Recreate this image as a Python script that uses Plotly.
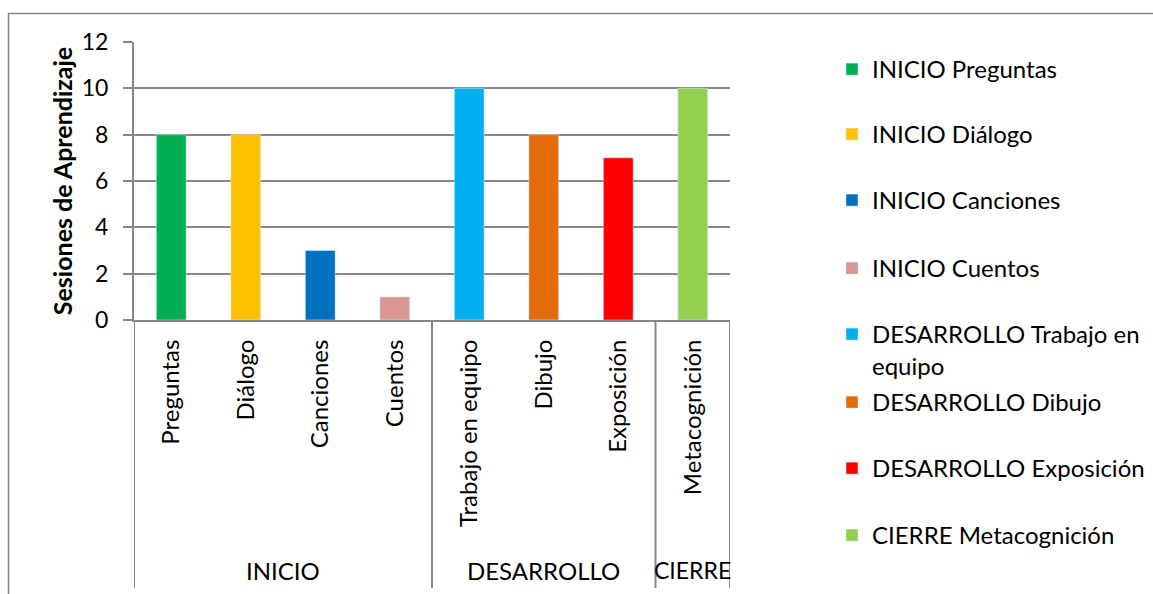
import plotly.graph_objects as go

# ---- data ----
groups = ["INICIO", "INICIO", "INICIO", "INICIO", "DESARROLLO", "DESARROLLO", "DESARROLLO", "CIERRE"]
categories = ["Preguntas", "Diálogo", "Canciones", "Cuentos", "Trabajo en equipo", "Dibujo", "Exposición", "Metacognición"]
values = [8, 8, 3, 1, 10, 8, 7, 10]
legend_labels = ["INICIO Preguntas", "INICIO Diálogo", "INICIO Canciones", "INICIO Cuentos",
                 "DESARROLLO Trabajo en<br>equipo", "DESARROLLO Dibujo", "DESARROLLO Exposición",
                 "CIERRE Metacognición"]
colors = ["#00B050", "#FFC000", "#0070C0", "#D99694", "#00B0F0", "#E36C09", "#FF0000", "#92D050"]
y_ticks = [0, 2, 4, 6, 8, 10, 12]

# ---- layout geometry (pixels) ----
W, H = 1153, 594
L, R, T, B = 134, 730, 42, 320
pw, ph = R - L, B - T
FONT = "Lato"
GRID = "#878787"

def px_x(p):
    return (p - L) / pw

def px_y(p):
    return (B - p) / ph

fig = go.Figure()
legend_y_px = [69, 134, 200, 268, 334, 402, 468, 535]
for i, (cat, val, col, lab) in enumerate(zip(categories, values, colors, legend_labels)):
    lname = "legend" if i == 0 else f"legend{i + 1}"
    fig.add_trace(go.Bar(x=[i], y=[val], name=lab, marker_color=col, width=0.4,
                         legend=lname, hoverinfo="skip"))

legends = {}
for i, ypx in enumerate(legend_y_px):
    lname = "legend" if i == 0 else f"legend{i + 1}"
    legends[lname] = dict(x=px_x(832), y=px_y(ypx - 22), xanchor="left", yanchor="top",
                          bgcolor="rgba(0,0,0,0)", font=dict(family=FONT, size=24, color="#000000"),
                          valign="top", itemclick=False, itemdoubleclick=False,
                          tracegroupgap=0)

fig.update_layout(
    width=W, height=H,
    margin=dict(l=L, r=W - R, t=T, b=H - B, pad=0, autoexpand=False),
    paper_bgcolor="white", plot_bgcolor="white",
    barmode="overlay",
    showlegend=True,
    **legends,
)

fig.update_xaxes(
    range=[-0.5, len(categories) - 0.5],
    tickmode="array", tickvals=list(range(len(categories))), ticktext=categories,
    tickangle=-90, ticks="", ticklabelstandoff=8,
    tickfont=dict(family=FONT, size=24, color="#000000"),
    showgrid=False, zeroline=False,
    showline=True, linecolor=GRID, linewidth=2,
)
fig.update_yaxes(
    range=[0, 12], tickmode="array", tickvals=y_ticks,
    ticks="outside", ticklen=9, tickcolor=GRID, tickwidth=2,
    ticklabelstandoff=10,
    tickfont=dict(family=FONT, size=23, color="#000000"),
    showgrid=True, gridcolor=GRID, gridwidth=2,
    zeroline=False, showline=True, linecolor=GRID, linewidth=2,
    title=dict(text="<b>Sesiones de Aprendizaje</b>", standoff=2,
               font=dict(family=FONT, size=25, color="#000000")),
)

# group separators and group labels
bounds = [-0.5]
for i in range(1, len(groups)):
    if groups[i] != groups[i - 1]:
        bounds.append(i - 0.5)
bounds.append(len(groups) - 0.5)
for b in bounds:
    fig.add_shape(type="line", xref="x", yref="paper", x0=b, x1=b,
                  y0=0, y1=px_y(588), line=dict(color=GRID, width=2))

seen = []
for g in groups:
    if g not in seen:
        seen.append(g)
for g in seen:
    idx = [i for i, gg in enumerate(groups) if gg == g]
    fig.add_annotation(x=(idx[0] + idx[-1]) / 2, y=px_y(570), xref="x", yref="paper",
                       text=g, showarrow=False, yanchor="middle",
                       font=dict(family=FONT, size=24 if g != "CIERRE" else 23, color="#000000"))

# chart outer border
fig.add_shape(type="rect", xref="paper", yref="paper",
              x0=px_x(8.5), x1=px_x(1300), y0=px_y(700), y1=px_y(13.5),
              line=dict(color="#868686", width=1.5), fillcolor="rgba(0,0,0,0)", layer="below")

fig.write_html("out.html")
